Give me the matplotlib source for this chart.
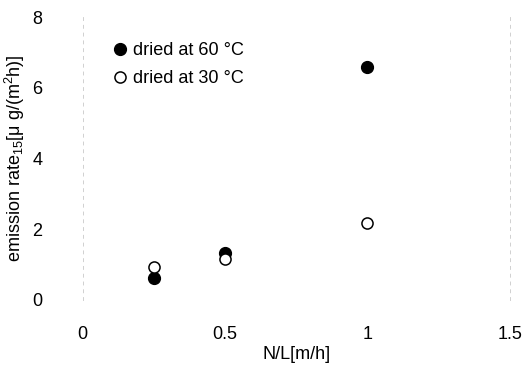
import numpy as np
import matplotlib.pyplot as plt

# values
nl = [0.25, 0.5, 1.0]
rate_60 = [0.62, 1.32, 6.58]
rate_30 = [0.93, 1.16, 2.18]

xticks = [0, 0.5, 1, 1.5]
xticklabels = ['0', '0.5', '1', '1.5']
yticks = [0, 2, 4, 6, 8]

plt.rcParams['font.family'] = ['Liberation Sans', 'DejaVu Sans']

fig = plt.figure(figsize=(5.24, 3.72), dpi=100)
ax = fig.add_axes([0.158, 0.194, 0.815, 0.76])

ax.plot(nl, rate_60, 'o', color='black', markersize=8.5, label='dried at 60 °C')
ax.plot(nl, rate_30, 'o', markerfacecolor='white', markeredgecolor='black',
        markeredgewidth=1.1, markersize=8, label='dried at 30 °C')

ax.set_xlim(0, 1.5)
ax.set_ylim(0, 8)
ax.set_xticks(xticks)
ax.set_xticklabels(xticklabels)
ax.set_yticks(yticks)
ax.tick_params(length=0, labelsize=13)
ax.tick_params(axis='y', pad=29)
ax.tick_params(axis='x', pad=19)

# faint scanned axis lines
for s in ['left', 'right']:
    ax.spines[s].set_color('#d0d0d0')
    ax.spines[s].set_linewidth(0.7)
    ax.spines[s].set_linestyle((0, (3, 5)))
for s in ['top', 'bottom']:
    ax.spines[s].set_visible(False)

ax.set_xlabel('N/L[m/h]', fontsize=13, labelpad=2)
ax.set_ylabel('emission rate$_{\\mathregular{15}}$[μ g/(m$^{\\mathregular{2}}$h)]',
              fontsize=13, labelpad=4)

ax.legend(loc='upper left', frameon=False, fontsize=13, handletextpad=0.1,
          borderaxespad=0.6, labelspacing=0.6, handlelength=1.2,
          bbox_to_anchor=(0.02, 0.975))

fig.savefig('out.png', dpi=100)
